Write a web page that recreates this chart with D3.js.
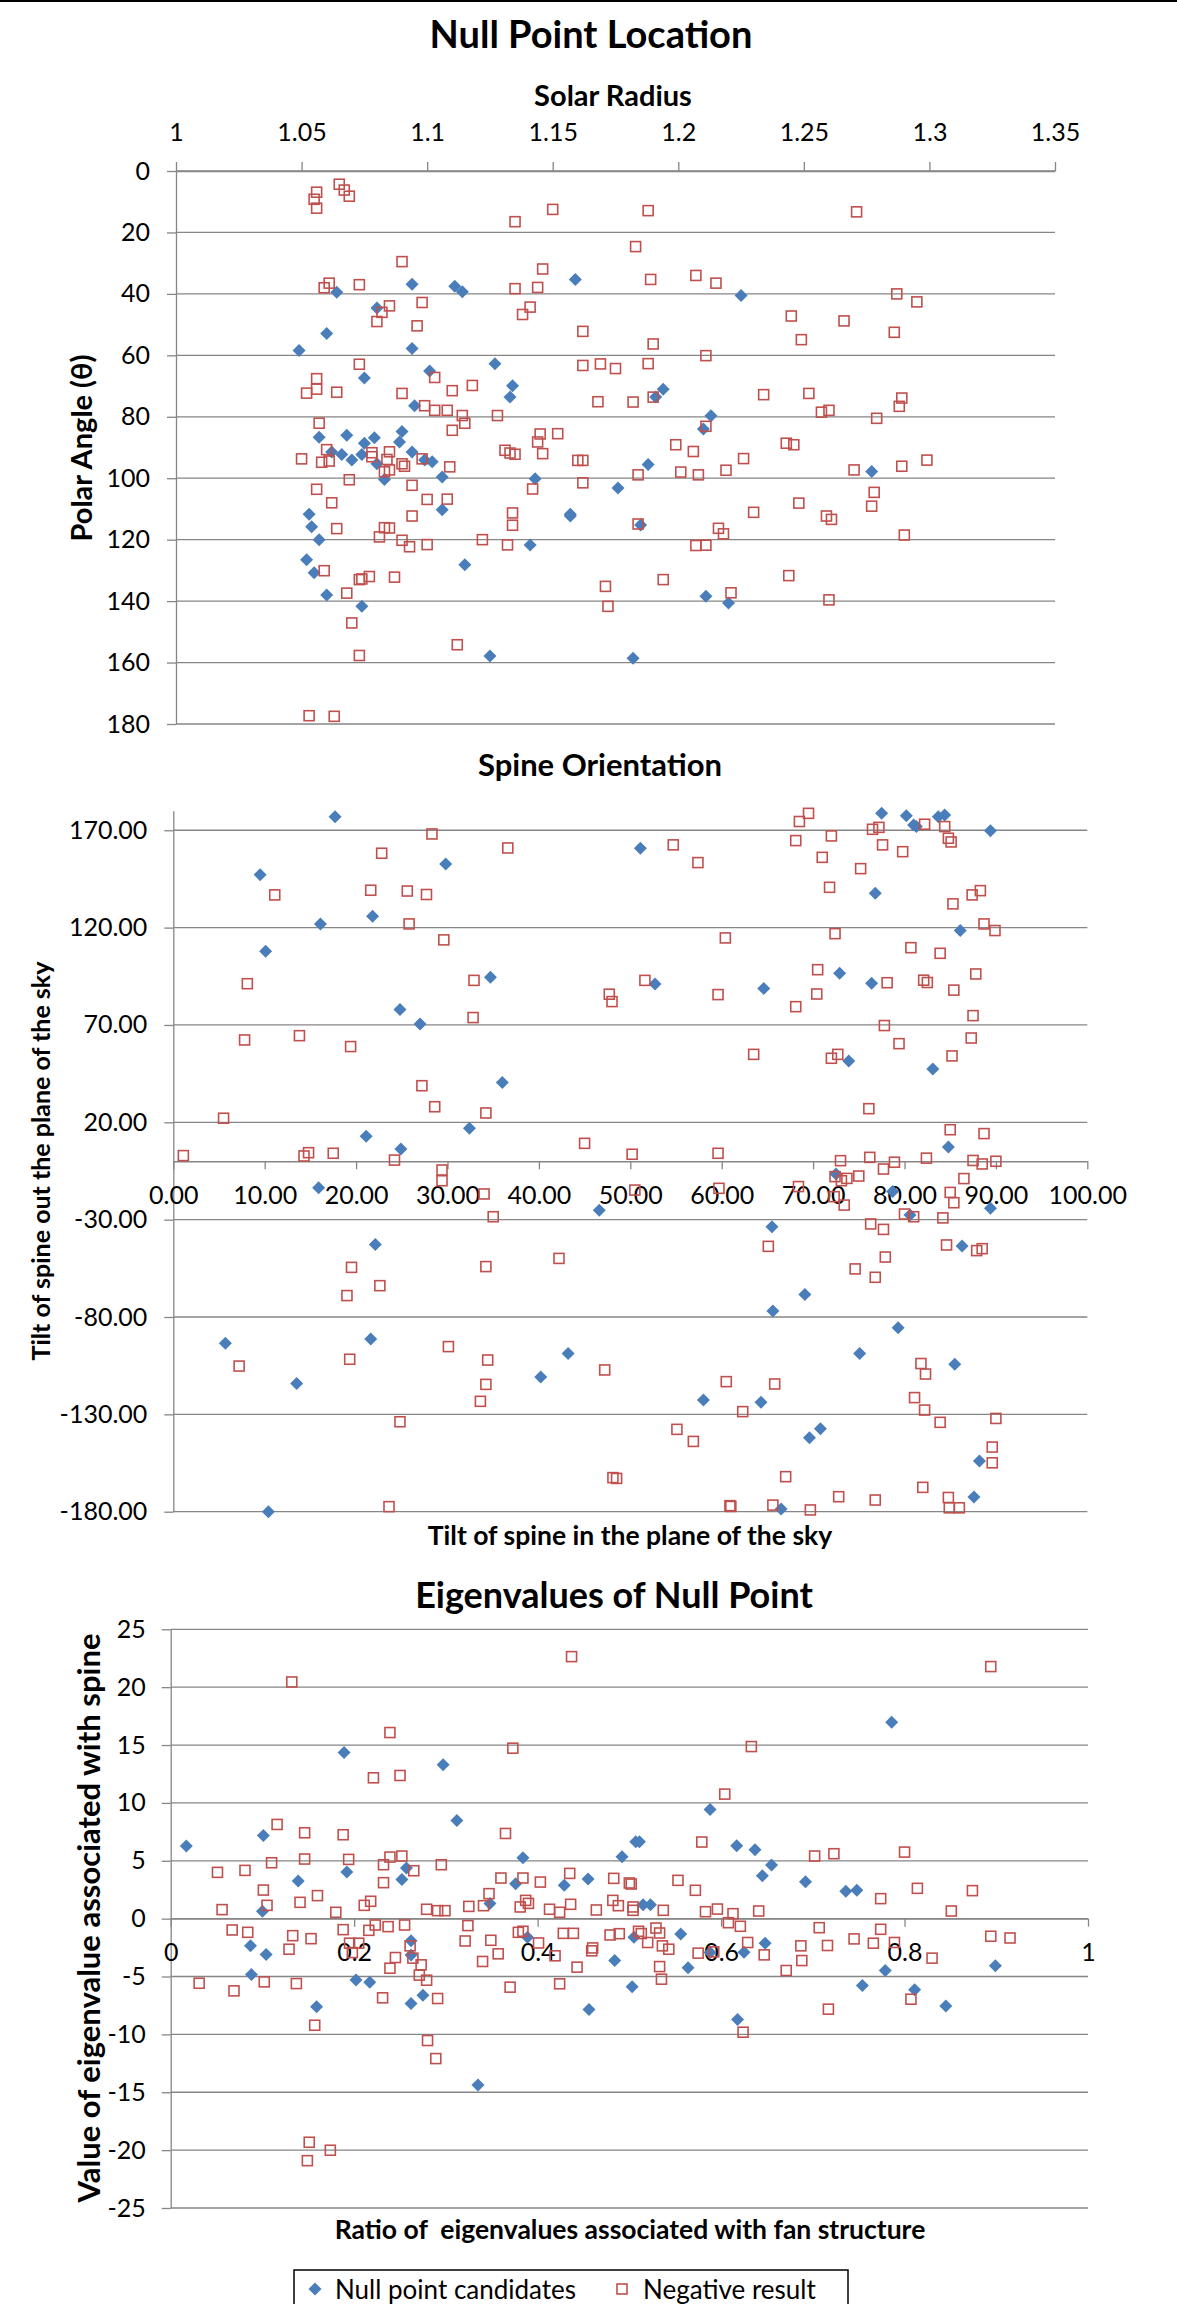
<!DOCTYPE html>
<html>
<head>
<meta charset="utf-8">
<script src="https://cdnjs.cloudflare.com/ajax/libs/d3/7.8.5/d3.min.js"></script>
<style>
  body { margin: 0; background: #fff; }
  text { font-family: Lato, "Open Sans", sans-serif; fill: #000; white-space: pre; }
  .tick text { font-size: 25px; }
  .axis path, .axis line { stroke: #868686; stroke-width: 1.3px; }
  .grid { stroke: #868686; stroke-width: 1.3px; }
  .title { font-weight: bold; }
  .axis_title { font-weight: bold; }
</style>
</head>
<body>
<div id="svg"></div>
<script>
// values, [x, y]
var location_candidates = [
  [1.064,39.5],[1.049,58.4],[1.060,52.9],[1.080,44.6],[1.094,36.9],[1.111,37.5],[1.114,39.3],[1.159,35.3],
  [1.094,57.8],[1.075,67.4],[1.101,65.1],[1.127,62.7],[1.134,69.9],[1.133,73.6],[1.095,76.4],[1.057,86.7],
  [1.068,86.0],[1.075,88.6],[1.079,86.8],[1.090,84.8],[1.089,88.2],[1.225,40.5],[1.194,71.0],[1.191,73.6],
  [1.213,79.7],[1.210,84.0],[1.062,91.5],[1.066,92.3],[1.070,94.1],[1.074,92.3],[1.080,95.3],[1.094,91.5],
  [1.083,100.4],[1.099,94.1],[1.102,94.6],[1.106,99.6],[1.106,110.3],[1.053,111.7],[1.054,115.8],[1.057,120.0],
  [1.052,126.5],[1.055,130.8],[1.060,138.0],[1.074,141.7],[1.115,128.2],[1.125,157.9],[1.141,121.7],[1.143,100.2],
  [1.157,111.7],[1.157,112.3],[1.176,103.2],[1.188,95.5],[1.185,115.2],[1.277,97.8],[1.211,138.4],[1.220,140.6],
  [1.182,158.6]
];
var location_negative = [
  [1.065,4.3],[1.067,6.2],[1.069,8.2],[1.056,6.9],[1.055,9.2],[1.056,12.1],[1.135,16.5],[1.150,12.5],
  [1.090,29.5],[1.146,31.9],[1.061,36.5],[1.059,38.0],[1.073,37.0],[1.135,38.3],[1.144,37.9],[1.085,43.9],
  [1.082,46.0],[1.080,49.0],[1.098,42.8],[1.096,50.4],[1.141,44.3],[1.138,46.7],[1.162,52.2],[1.073,62.9],
  [1.162,63.3],[1.169,62.8],[1.175,64.3],[1.056,67.6],[1.056,71.0],[1.052,72.3],[1.064,72.0],[1.103,67.2],
  [1.090,72.4],[1.110,71.5],[1.118,69.8],[1.168,75.1],[1.099,76.4],[1.103,77.9],[1.108,77.9],[1.114,79.6],
  [1.115,82.1],[1.110,84.4],[1.128,79.6],[1.057,82.1],[1.145,85.6],[1.152,85.5],[1.144,88.2],
  [1.188,12.9],[1.271,13.3],[1.183,24.6],[1.189,35.3],[1.207,34.0],[1.215,36.5],[1.287,40.0],[1.295,42.6],
  [1.245,47.2],[1.266,48.8],[1.286,52.5],[1.249,54.9],[1.190,56.3],[1.211,60.1],[1.188,62.7],[1.182,75.2],
  [1.190,73.6],[1.234,72.8],[1.252,72.4],[1.257,78.5],[1.260,77.9],[1.289,73.9],[1.288,76.6],[1.279,80.5],
  [1.211,83.1],[1.199,89.1],[1.206,91.3],[1.243,88.6],[1.246,89.1],
  [1.050,93.7],[1.060,90.7],[1.058,94.8],[1.061,94.4],[1.078,91.7],[1.078,93.0],[1.085,91.4],[1.084,93.9],
  [1.083,97.9],[1.085,97.3],[1.090,95.3],[1.091,96.1],[1.098,93.7],[1.109,96.3],[1.069,100.5],[1.056,103.6],
  [1.062,108.0],[1.094,102.3],[1.100,106.9],[1.108,106.8],[1.094,112.3],[1.064,116.4],[1.083,116.1],[1.085,116.2],
  [1.081,119.1],[1.090,120.2],[1.093,122.3],[1.100,121.6],[1.122,120.0],[1.132,121.7],[1.134,111.3],[1.134,115.3],
  [1.131,90.9],[1.133,91.8],[1.135,92.2],[1.142,103.5],[1.146,92.0],[1.160,94.2],[1.162,94.2],[1.162,101.5],
  [1.171,135.2],[1.172,141.7],[1.059,130.1],[1.073,133.0],[1.074,132.8],[1.077,132.0],[1.087,132.2],[1.068,137.4],
  [1.070,147.1],[1.073,157.7],[1.112,154.2],[1.053,177.3],[1.063,177.5],
  [1.184,98.9],[1.201,98.0],[1.208,98.9],[1.219,97.4],[1.226,93.6],[1.270,97.3],[1.289,96.1],[1.299,94.1],
  [1.278,104.6],[1.277,109.1],[1.248,108.1],[1.230,111.1],[1.259,112.3],[1.261,113.4],[1.184,114.9],[1.216,116.3],
  [1.218,118.1],[1.207,121.9],[1.211,121.8],[1.290,118.5],[1.194,133.0],[1.244,131.7],[1.221,137.3],[1.260,139.6]
];

var spine_candidates = [
  [17.7,177.0],[9.5,147.2],[10.1,107.8],[16.1,121.9],[21.8,125.8],[29.8,152.7],[34.7,94.5],[24.8,78.0],
  [27.0,70.5],[36.0,40.4],[21.1,12.8],[32.4,16.9],[24.9,6.3],
  [77.5,178.7],[80.2,177.4],[81.0,172.7],[81.3,171.9],[83.7,177.0],[84.4,177.9],[89.4,169.7],[51.1,160.8],
  [76.8,137.6],[86.1,118.5],[52.7,91.1],[64.6,88.7],[72.9,96.5],[76.4,91.4],[73.9,51.5],[83.1,47.4],[84.8,7.3],
  [15.9,-13.6],[22.1,-42.7],[46.6,-25.2],[5.7,-93.5],[13.5,-114.2],[21.6,-91.3],[40.2,-110.8],[43.2,-98.7],
  [10.4,-180.0],
  [72.5,-6.5],[78.7,-15.6],[80.6,-27.6],[89.4,-24.2],[65.5,-33.6],[86.3,-43.5],[69.1,-68.5],[65.6,-76.9],
  [79.3,-85.5],[75.1,-98.8],[85.5,-104.3],[58.0,-122.6],[64.3,-123.8],[69.6,-142.0],[70.8,-137.4],[88.2,-154.0],
  [87.6,-172.5],[66.5,-178.6]
];
var spine_negative = [
  [28.3,168.1],[22.8,158.2],[36.6,160.9],[11.1,136.8],[21.6,139.2],[25.6,138.8],[27.7,137.0],[25.8,121.9],
  [29.6,113.7],[8.1,91.2],[32.9,92.9],[32.8,73.8],[47.7,85.8],[48.0,82.0],[7.8,62.3],[13.8,64.5],
  [19.4,58.9],[27.2,38.8],[28.6,28.0],[34.2,24.8],[5.5,22.1],[45.0,9.2],
  [69.5,178.7],[68.5,174.5],[68.1,164.7],[72.0,167.1],[71.0,156.1],[75.2,150.3],[71.8,140.7],[76.5,170.5],
  [77.2,171.5],[77.6,162.5],[79.8,159.0],[82.2,173.1],[84.4,171.9],[84.8,165.9],[85.1,164.0],[54.7,162.5],
  [57.4,153.4],[60.4,114.7],[72.4,116.9],[85.3,132.2],[87.4,136.8],[88.3,139.0],[88.7,121.9],[89.9,118.5],
  [80.7,109.7],[83.9,106.8],[87.8,96.2],[70.5,98.4],[51.6,92.9],[59.6,85.6],[68.1,79.4],[70.4,85.9],
  [78.1,91.7],[82.1,93.0],[82.5,91.8],[85.4,87.9],[87.5,74.8],[87.3,63.3],[85.2,54.1],[77.8,69.7],
  [79.4,60.4],[63.5,54.9],[72.7,54.9],[72.0,52.9],[76.1,27.0],[85.0,16.2],[88.7,14.2],[50.2,3.6],[59.6,4.1],
  [1.1,2.9],[14.3,2.7],[14.8,4.4],[17.5,4.1],[24.2,0.6],[29.4,-4.5],[29.4,-10.0],[34.0,-16.8],[35.0,-28.5],
  [19.5,-54.5],[19.0,-69.0],[22.6,-63.9],[34.2,-54.1],[42.2,-49.9],[7.2,-105.2],[19.3,-101.7],[30.1,-95.2],
  [34.4,-102.1],[34.2,-114.6],[33.6,-123.3],[24.8,-133.8],[47.2,-107.2],[48.1,-162.5],[48.5,-162.9],[23.6,-177.4],
  [73.0,0.3],[76.2,2.0],[78.9,-0.5],[82.4,1.6],[87.5,0.4],[88.5,-1.4],[90.0,0.0],[77.7,-4.0],
  [75.0,-7.6],[72.4,-7.9],[73.1,-10.0],[73.7,-8.8],[72.3,-18.2],[73.4,-22.5],[68.4,-13.0],[59.7,-13.9],
  [50.5,-14.8],[85.0,-16.0],[85.4,-21.3],[86.5,-8.9],[80.0,-27.1],[81.0,-28.5],[84.2,-29.1],[76.3,-32.2],
  [77.7,-35.0],[84.6,-43.0],[87.9,-45.9],[88.5,-44.9],[77.9,-49.2],[74.6,-55.3],[76.8,-59.6],[65.1,-43.7],
  [81.8,-103.9],[82.3,-109.3],[81.1,-121.4],[82.2,-127.8],[83.9,-134.1],[90.0,-132.1],[89.6,-146.8],[89.6,-154.9],
  [60.5,-113.2],[65.8,-114.4],[62.3,-128.6],[55.1,-137.7],[56.9,-143.9],[67.0,-162.0],[60.9,-176.9],[61.0,-177.3],
  [65.6,-176.6],[69.7,-179.1],[72.8,-172.3],[76.8,-174.0],[82.0,-167.5],[84.8,-172.7],[84.9,-178.0],[86.0,-178.0]
];

var eigen_candidates = [
  [0.017,6.27],[0.101,7.19],[0.100,0.63],[0.139,3.25],[0.189,14.36],[0.192,4.03],[0.252,3.39],[0.257,4.37],
  [0.297,13.29],[0.312,8.49],[0.348,1.30],[0.376,3.02],[0.384,5.26],[0.429,2.88],[0.455,3.42],[0.492,5.35],
  [0.087,-2.35],[0.104,-3.10],[0.088,-4.83],[0.159,-7.62],[0.202,-5.29],[0.217,-5.49],[0.262,-7.33],[0.275,-6.61],
  [0.262,-3.13],[0.262,-1.9],[0.335,-14.37],[0.456,-7.85],[0.484,-3.62],[0.389,-1.6],[0.503,-5.89],
  [0.564,-4.25],[0.588,-2.93],[0.625,-2.90],[0.648,-2.12],[0.618,-8.72],[0.754,-5.78],[0.779,-4.48],[0.811,-6.15],
  [0.845,-7.54],[0.899,-4.08],
  [0.507,6.65],[0.511,6.65],[0.588,9.44],[0.617,6.30],[0.637,5.96],[0.655,4.63],[0.645,3.71],[0.692,3.19],
  [0.736,2.36],[0.748,2.45],[0.786,16.97],[0.515,1.21],[0.523,1.21],[0.556,-1.32],[0.505,-1.61]
];
var eigen_negative = [
  [0.132,20.45],[0.239,16.08],[0.437,22.64],[0.373,14.73],[0.221,12.17],[0.250,12.37],[0.116,8.14],[0.146,7.42],
  [0.188,7.25],[0.365,7.36],[0.051,4.00],[0.081,4.17],[0.110,4.83],[0.146,5.15],[0.194,5.12],[0.232,4.66],
  [0.239,5.32],[0.252,5.41],[0.265,4.14],[0.295,4.66],[0.232,3.11],[0.101,2.47],[0.105,1.15],[0.056,0.78],
  [0.141,1.41],[0.160,1.99],[0.180,0.55],[0.211,1.15],[0.218,1.50],[0.279,0.81],[0.291,0.69],[0.299,0.69],
  [0.325,1.06],[0.341,1.12],[0.347,2.16],[0.360,3.51],[0.384,3.51],[0.403,3.16],[0.387,1.58],[0.390,1.32],
  [0.381,1.01],[0.413,0.81],[0.424,0.55],[0.435,3.91],[0.436,1.24],[0.464,0.75],[0.483,3.48],[0.482,1.58],
  [0.488,1.12],[0.500,3.08],
  [0.067,-0.98],[0.084,-1.18],[0.133,-1.47],[0.153,-1.73],[0.188,-0.95],[0.223,-0.55],[0.237,-0.69],[0.255,-0.55],
  [0.216,-1.01],[0.324,-0.60],[0.321,-1.93],[0.349,-1.87],[0.379,-1.18],[0.384,-1.09],[0.428,-1.27],[0.439,-1.27],
  [0.479,-1.41],[0.489,-1.30],[0.401,-2.10],[0.460,-2.53],
  [0.031,-5.58],[0.069,-6.24],[0.102,-5.46],[0.137,-5.61],[0.129,-2.64],[0.157,-9.21],[0.195,-2.12],[0.205,-2.12],
  [0.198,-2.93],[0.239,-4.28],[0.245,-3.36],[0.231,-6.84],[0.261,-2.35],[0.264,-3.41],[0.273,-3.99],[0.271,-4.88],
  [0.279,-5.32],[0.291,-6.90],[0.280,-10.53],[0.289,-12.09],[0.151,-19.32],[0.149,-20.91],[0.174,-20.01],
  [0.340,-3.70],[0.357,-3.04],[0.370,-5.92],[0.419,-3.21],[0.424,-5.63],[0.443,-4.19],[0.459,-2.78],
  [0.520,-2.06],[0.536,-2.35],[0.543,-2.64],[0.533,-4.14],[0.535,-5.23],[0.575,-2.98],[0.592,-2.87],[0.629,-2.06],
  [0.647,-3.13],[0.624,-9.81],[0.671,-4.48],[0.687,-2.35],[0.688,-3.62],[0.716,-2.32],[0.717,-7.82],[0.766,-2.12],
  [0.789,-2.06],[0.807,-6.96],[0.830,-3.41],
  [0.894,21.78],[0.633,14.87],[0.604,10.76],[0.579,6.62],[0.502,2.99],[0.553,3.31],[0.572,2.45],[0.702,5.41],
  [0.723,5.61],[0.800,5.75],[0.814,2.62],[0.874,2.42],[0.774,1.73],[0.851,0.66],[0.504,1.01],[0.504,0.72],
  [0.537,0.72],[0.583,0.60],[0.596,0.83],[0.613,0.43],[0.641,0.66],[0.608,-0.35],[0.621,-0.66],[0.707,-0.78],
  [0.774,-0.92],[0.894,-1.52],[0.915,-1.67],[0.510,-1.09],[0.513,-1.29],[0.529,-0.81],[0.533,-1.24],[0.745,-1.75]
];

var radius_ticks = [1, 1.05, 1.1, 1.15, 1.2, 1.25, 1.3, 1.35];
var angle_ticks = [0, 20, 40, 60, 80, 100, 120, 140, 160, 180];
var spine_in_ticks = [0, 10, 20, 30, 40, 50, 60, 70, 80, 90, 100];
var spine_out_ticks = [170, 120, 70, 20, -30, -80, -130, -180];
var ratio_ticks = [0, 0.2, 0.4, 0.6, 0.8, 1];
var eigen_ticks = [25, 20, 15, 10, 5, 0, -5, -10, -15, -20, -25];

var width = 1177;
var height = 2304;

var svg = d3.select("#svg").append("svg")
  .attr("width", width)
  .attr("height", height);

svg.append("rect")
  .attr("x", 0).attr("y", 0)
  .attr("width", width).attr("height", 2)
  .attr("fill", "#000");

var diamond = "M0,-6.5L6.5,0L0,6.5L-6.5,0Z";

function draw_points(g, data, x, y, candidate)
{
  if (candidate)
  {
    g.selectAll(null).data(data).enter().append("path")
    .attr("d", diamond)
    .attr("fill", "#4a7ebb")
    .attr("transform", function(d) { return "translate(" + x(d[0]) + "," + y(d[1]) + ")"; });
  }
  else
  {
    g.selectAll(null).data(data).enter().append("rect")
    .attr("x", function(d) { return x(d[0]) - 5; })
    .attr("y", function(d) { return y(d[1]) - 5; })
    .attr("width", 10)
    .attr("height", 10)
    .attr("fill", "none")
    .attr("stroke", "#c0504d")
    .attr("stroke-width", 1.6);
  }
}

function grid(g, ticks, x, y)
{
  g.selectAll(null).data(ticks).enter().append("line")
  .attr("class", "grid")
  .attr("x1", x.range()[0])
  .attr("x2", x.range()[1])
  .attr("y1", function(d) { return y(d); })
  .attr("y2", function(d) { return y(d); });
}

function title(text, cx, cy, cls, size, rotate)
{
  var t = svg.append("text")
  .attr("class", cls)
  .attr("text-anchor", "middle")
  .attr("dominant-baseline", "central")
  .style("font-size", size + "px")
  .text(text);
  if (rotate)
    t.attr("transform", "translate(" + cx + "," + cy + ") rotate(-90)");
  else
    t.attr("x", cx).attr("y", cy);
}

// ---- Null Point Location
var x1 = d3.scaleLinear().domain([1, 1.35]).range([176, 1055]);
var y1 = d3.scaleLinear().domain([0, 180]).range([171, 724]);
var c1 = svg.append("g");
grid(c1, angle_ticks, x1, y1);
c1.append("g")
  .attr("class", "axis")
  .attr("transform", "translate(0," + y1(0) + ")")
  .call(d3.axisTop(x1).tickValues(radius_ticks).tickFormat(String).tickSize(9).tickSizeOuter(0).tickPadding(21));
c1.append("g")
  .attr("class", "axis")
  .attr("transform", "translate(" + x1(1) + ",0)")
  .call(d3.axisLeft(y1).tickValues(angle_ticks).tickFormat(String).tickSize(9).tickSizeOuter(0).tickPadding(17));
draw_points(c1, location_candidates, x1, y1, true);
draw_points(c1, location_negative, x1, y1, false);
title("Null Point Location", 591, 33, "title", 38);
title("Solar Radius", 613, 94, "axis_title", 29);
title("Polar Angle (\u03b8)", 80, 448, "axis_title", 29, true);

// ---- Spine Orientation
var x2 = d3.scaleLinear().domain([0, 100]).range([173.3, 1087.3]);
var y2 = d3.scaleLinear().domain([-180, 180]).range([1511.7, 810.8]);
var c2 = svg.append("g");
grid(c2, spine_out_ticks, x2, y2);
c2.append("g")
  .attr("class", "axis")
  .attr("transform", "translate(" + x2(0) + ",0)")
  .call(d3.axisLeft(y2).tickValues(spine_out_ticks).tickFormat(function(d) { return d.toFixed(2); }).tickSize(9).tickSizeOuter(0).tickPadding(17));
c2.append("g")
  .attr("class", "axis")
  .attr("transform", "translate(0," + y2(0) + ")")
  .call(d3.axisBottom(x2).tickValues(spine_in_ticks).tickFormat(function(d) { return d.toFixed(2); }).tickSize(8).tickSizeOuter(0).tickPadding(17));
draw_points(c2, spine_candidates, x2, y2, true);
draw_points(c2, spine_negative, x2, y2, false);
title("Spine Orientation", 600, 764, "title", 31);
title("Tilt of spine in the plane of the sky", 630, 1535, "axis_title", 26.5);
title("Tilt of spine out the plane of the sky", 40, 1161, "axis_title", 25, true);

// ---- Eigenvalues of Null Point
var x3 = d3.scaleLinear().domain([0, 1]).range([170.7, 1088]);
var y3 = d3.scaleLinear().domain([-25, 25]).range([2208, 1629.3]);
var c3 = svg.append("g");
grid(c3, eigen_ticks, x3, y3);
c3.append("g")
  .attr("class", "axis")
  .attr("transform", "translate(" + x3(0) + ",0)")
  .call(d3.axisLeft(y3).tickValues(eigen_ticks).tickFormat(String).tickSize(9).tickSizeOuter(0).tickPadding(16));
c3.append("g")
  .attr("class", "axis")
  .attr("transform", "translate(0," + y3(0) + ")")
  .call(d3.axisBottom(x3).tickValues(ratio_ticks).tickFormat(String).tickSize(8).tickSizeOuter(0).tickPadding(17));
draw_points(c3, eigen_candidates, x3, y3, true);
draw_points(c3, eigen_negative, x3, y3, false);
title("Eigenvalues of Null Point", 614, 1594, "title", 36);
title("Ratio of  eigenvalues associated with fan structure", 630, 2229, "axis_title", 26.5);
title("Value of eigenvalue associated with spine", 88, 1918, "axis_title", 31, true);

svg.selectAll(".tick text").attr("fill", "#000");

// ---- legend
var legend = svg.append("g");
legend.append("rect")
  .attr("x", 294).attr("y", 2270)
  .attr("width", 554).attr("height", 45)
  .attr("fill", "#fff")
  .attr("stroke", "#000")
  .attr("stroke-width", 1.5);
legend.append("path")
  .attr("d", diamond)
  .attr("fill", "#4a7ebb")
  .attr("transform", "translate(315,2289)");
legend.append("text")
  .attr("x", 335).attr("y", 2289)
  .attr("dominant-baseline", "central")
  .style("font-size", "26px")
  .text("Null point candidates");
legend.append("rect")
  .attr("x", 617).attr("y", 2284)
  .attr("width", 10).attr("height", 10)
  .attr("fill", "none")
  .attr("stroke", "#c0504d")
  .attr("stroke-width", 1.6);
legend.append("text")
  .attr("x", 643).attr("y", 2289)
  .attr("dominant-baseline", "central")
  .style("font-size", "26px")
  .text("Negative result");
</script>
</body>
</html>
